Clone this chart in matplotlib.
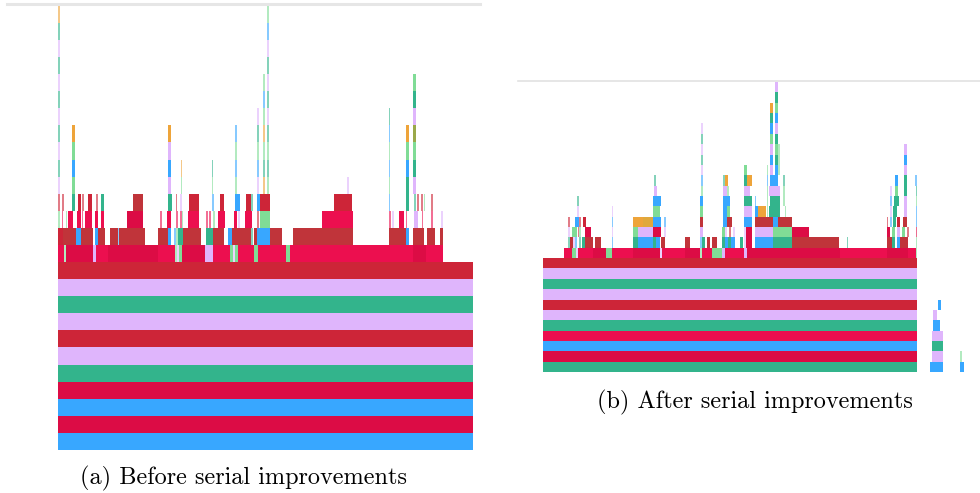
import matplotlib
matplotlib.use("Agg")
import matplotlib.pyplot as plt
from matplotlib.colors import to_rgba

# colour of each frame kind
palette = {
    "r": "#CD2538",  # red
    "d": "#C0343A",  # dark red
    "c": "#DC0C45",  # crimson
    "p": "#EC0F4F",  # pink
    "l": "#DFB5FC",  # lavender
    "g": "#33B48C",  # green
    "e": "#80DC96",  # light green
    "b": "#38A7FF",  # blue
    "o": "#EEA43A",  # orange
    "q": "#E0A83C",  # gold
    "v": "#9AA84A",  # olive
}

# ---- (a) before serial improvements ----
before_total = 415
# full-width frames, from the bottom of the stack upward
before_base = ["b", "c", "b", "c", "g", "l", "r", "l", "g", "l", "r"]
# (depth, start, end, kind)
before_frames = [
    (11, 0, 6, "p"), (11, 6, 8, "e"), (11, 8, 35, "c"), (11, 35, 38, "l"), (11, 38, 50, "p"),
    (11, 50, 100, "c"), (11, 100, 117, "p"), (11, 117, 119, "e"), (11, 119, 121, "l"),
    (11, 121, 124, "e"), (11, 124, 147, "c"), (11, 147, 155, "l"), (11, 155, 172, "p"),
    (11, 172, 175, "e"), (11, 175, 177, "l"), (11, 177, 180, "e"), (11, 180, 196, "p"),
    (11, 196, 200, "e"), (11, 200, 228, "p"), (11, 228, 232, "e"), (11, 232, 355, "p"),
    (11, 355, 368, "c"), (11, 368, 385, "p"),
    (12, 0, 5, "r"), (12, 5, 18, "d"), (12, 18, 23, "b"), (12, 23, 35, "d"), (12, 37, 40, "b"),
    (12, 40, 47, "d"), (12, 52, 60, "d"), (12, 60, 61, "b"), (12, 61, 87, "d"), (12, 100, 110, "d"),
    (12, 110, 113, "b"), (12, 116, 118, "b"), (12, 118, 120, "e"), (12, 120, 125, "g"),
    (12, 125, 143, "d"), (12, 148, 155, "g"), (12, 155, 166, "d"), (12, 170, 174, "b"),
    (12, 174, 193, "d"), (12, 193, 195, "g"), (12, 196, 199, "d"), (12, 199, 212, "b"),
    (12, 212, 224, "d"), (12, 235, 295, "d"), (12, 331, 348, "d"), (12, 348, 351, "b"),
    (12, 355, 366, "d"), (12, 369, 377, "d"), (12, 382, 385, "d"),
    (13, 0, 2, "e"), (13, 4, 5, "p"), (13, 8, 9, "e"), (13, 10, 15, "p"), (13, 19, 23, "p"),
    (13, 24, 25, "p"), (13, 27, 34, "p"), (13, 37, 40, "p"), (13, 43, 46, "p"), (13, 69, 85, "c"),
    (13, 102, 104, "p"), (13, 109, 113, "p"), (13, 118, 120, "p"), (13, 122, 124, "p"),
    (13, 124, 125, "e"), (13, 130, 141, "p"), (13, 148, 150, "p"), (13, 151, 153, "p"),
    (13, 155, 157, "e"), (13, 160, 167, "p"), (13, 176, 179, "p"), (13, 180, 182, "l"),
    (13, 187, 194, "p"), (13, 199, 201, "r"), (13, 202, 212, "e"), (13, 264, 295, "p"),
    (13, 331, 333, "p"), (13, 334, 336, "l"), (13, 341, 346, "p"), (13, 348, 349, "p"),
    (13, 356, 360, "l"), (13, 364, 365, "p"), (13, 373, 375, "p"), (13, 383, 385, "l"),
    (14, 0, 2, "r"), (14, 4, 6, "r"), (14, 14, 17, "g"), (14, 20, 23, "r"), (14, 24, 26, "r"),
    (14, 30, 34, "r"), (14, 38, 40, "r"), (14, 43, 46, "g"), (14, 75, 85, "d"), (14, 110, 114, "g"),
    (14, 118, 119, "r"), (14, 122, 124, "l"), (14, 131, 141, "r"), (14, 154, 156, "b"),
    (14, 162, 166, "r"), (14, 177, 182, "b"), (14, 188, 193, "r"), (14, 193, 195, "g"),
    (14, 199, 202, "b"), (14, 202, 212, "r"), (14, 276, 294, "r"), (14, 331, 332, "b"),
    (14, 348, 351, "g"), (14, 356, 358, "g"), (14, 359, 361, "r"), (14, 363, 365, "r"),
    (14, 366, 367, "e"), (14, 373, 375, "r"),
]
# (start, end, first depth, kinds going up)
before_spikes = [
    (0, 2, 15, "lglglglglgo"),
    (14, 17, 15, "ebeo"),
    (110, 113, 15, "lblo"),
    (123, 124, 15, "eo"),
    (154, 155, 15, "eg"),
    (177, 179, 15, "ebeb"),
    (199, 201, 15, "lbegl"),
    (205, 207, 15, "ogeoebe"),
    (209, 211, 15, "egeglglglbe"),
    (289, 291, 15, "l"),
    (331, 332, 15, "ebebg"),
    (348, 351, 15, "gbeo"),
    (355, 358, 15, "lgevlge"),
]

# ---- (b) after serial improvements ----
after_total = 374
after_base = ["g", "c", "b", "p", "g", "l", "r", "l", "g", "l", "r"]
after_frames = [
    (11, 21, 29, "p"), (11, 29, 33, "e"), (11, 33, 35, "l"), (11, 35, 50, "p"), (11, 50, 63, "c"),
    (11, 63, 69, "e"), (11, 69, 90, "p"), (11, 90, 117, "c"), (11, 117, 119, "l"), (11, 119, 142, "p"),
    (11, 142, 157, "c"), (11, 157, 159, "e"), (11, 159, 169, "p"), (11, 169, 179, "e"),
    (11, 179, 182, "l"), (11, 182, 201, "p"), (11, 201, 204, "l"), (11, 204, 297, "c"),
    (11, 297, 344, "p"), (11, 344, 365, "c"), (11, 365, 373, "p"), (11, 373, 374, "e"),
    (12, 25, 27, "g"), (12, 27, 30, "d"), (12, 30, 32, "l"), (12, 32, 34, "b"), (12, 36, 38, "g"),
    (12, 39, 42, "g"), (12, 42, 50, "d"), (12, 52, 58, "d"), (12, 69, 70, "b"), (12, 90, 95, "g"),
    (12, 95, 110, "b"), (12, 110, 113, "g"), (12, 113, 117, "b"), (12, 118, 122, "d"),
    (12, 142, 147, "d"), (12, 157, 159, "b"), (12, 159, 162, "g"), (12, 164, 167, "d"),
    (12, 169, 174, "d"), (12, 179, 182, "g"), (12, 182, 185, "b"), (12, 185, 188, "g"),
    (12, 188, 192, "b"), (12, 197, 200, "g"), (12, 201, 203, "l"), (12, 203, 209, "c"),
    (12, 212, 230, "b"), (12, 230, 249, "g"), (12, 249, 296, "d"), (12, 304, 305, "g"),
    (12, 344, 349, "d"), (12, 349, 352, "g"), (12, 354, 357, "b"), (12, 357, 365, "d"),
    (12, 373, 374, "e"),
    (13, 25, 27, "l"), (13, 29, 34, "e"), (13, 35, 36, "r"), (13, 36, 38, "e"), (13, 42, 48, "c"),
    (13, 69, 70, "l"), (13, 90, 95, "e"), (13, 95, 110, "l"), (13, 110, 118, "c"), (13, 121, 123, "l"),
    (13, 157, 160, "l"), (13, 179, 182, "e"), (13, 182, 184, "l"), (13, 186, 188, "r"),
    (13, 190, 192, "l"), (13, 201, 203, "l"), (13, 203, 209, "c"), (13, 212, 230, "l"),
    (13, 230, 249, "e"), (13, 249, 266, "c"), (13, 344, 347, "c"), (13, 349, 352, "e"),
    (13, 354, 357, "l"), (13, 359, 362, "e"), (13, 364, 366, "r"), (13, 373, 374, "c"),
    (14, 25, 27, "r"), (14, 32, 36, "b"), (14, 36, 38, "r"), (14, 40, 43, "r"), (14, 69, 70, "b"),
    (14, 90, 100, "o"), (14, 100, 110, "q"), (14, 110, 118, "b"), (14, 121, 123, "b"),
    (14, 157, 160, "d"), (14, 180, 184, "b"), (14, 184, 189, "d"), (14, 201, 209, "b"),
    (14, 212, 230, "d"), (14, 230, 235, "b"), (14, 235, 249, "d"), (14, 344, 345, "r"),
    (14, 347, 349, "b"), (14, 350, 353, "g"), (14, 354, 357, "r"), (14, 360, 364, "d"),
    (14, 373, 374, "b"),
    (15, 34, 36, "l"), (15, 69, 70, "l"), (15, 110, 117, "e"), (15, 157, 160, "e"),
    (15, 180, 184, "b"), (15, 184, 187, "e"), (15, 201, 209, "l"), (15, 212, 215, "b"),
    (15, 215, 223, "o"), (15, 224, 225, "e"), (15, 226, 237, "g"), (15, 242, 243, "e"),
    (15, 347, 349, "l"), (15, 350, 354, "g"), (15, 361, 364, "l"), (15, 373, 374, "b"),
    (16, 34, 36, "g"), (16, 110, 118, "b"), (16, 157, 160, "b"), (16, 180, 187, "b"),
    (16, 201, 209, "g"), (16, 212, 213, "b"), (16, 224, 225, "e"), (16, 227, 237, "g"),
    (16, 240, 242, "e"), (16, 347, 349, "b"), (16, 351, 356, "g"), (16, 361, 364, "l"),
    (16, 373, 374, "e"),
    (17, 111, 114, "l"), (17, 158, 160, "e"), (17, 180, 184, "l"), (17, 184, 186, "e"),
    (17, 201, 207, "l"), (17, 224, 225, "e"), (17, 226, 237, "l"), (17, 240, 242, "e"),
    (17, 347, 349, "l"), (17, 352, 355, "e"), (17, 361, 364, "g"), (17, 373, 374, "g"),
    (18, 111, 113, "g"), (18, 180, 182, "g"), (18, 182, 185, "o"), (18, 201, 204, "g"),
    (18, 204, 209, "o"), (18, 224, 225, "b"), (18, 227, 235, "b"), (18, 240, 242, "g"),
    (18, 352, 355, "b"), (18, 372, 374, "b"),
    # small separate stacks at the right
    (0, 387, 400, "b"), (1, 389, 400, "l"), (2, 389, 400, "g"), (3, 389, 400, "l"),
    (4, 390, 397, "b"), (5, 390, 394, "l"), (6, 395, 398, "b"),
    (0, 417, 421, "b"), (1, 417, 419, "e"),
]
after_spikes = [
    (158, 160, 18, "blglgl"),
    (201, 204, 19, "e"),
    (224, 225, 19, "e"),
    (227, 230, 19, "lblebgo"),
    (232, 235, 19, "bgeglbegl"),
    (235, 237, 19, "eee"),
    (361, 364, 18, "glbl"),
]


def draw_flame(ax, total, base, frames, spikes):
    depth, left, width, color = [], [], [], []
    for i, k in enumerate(base):
        depth.append(i); left.append(0); width.append(total); color.append(palette[k])
    for d, s, e, k in frames:
        depth.append(d); left.append(s); width.append(e - s); color.append(palette[k])
    for s, e, d0, kinds in spikes:
        for i, k in enumerate(kinds):
            depth.append(d0 + i); left.append(s); width.append(e - s); color.append(palette[k])
    # very narrow frames show up washed out in the profiler view
    color = [to_rgba(c, 0.6 if w <= 2 else 1.0) for c, w in zip(color, width)]
    ax.barh(depth, width, left=left, height=1, align="edge", color=color, linewidth=0)
    ax.set_axis_off()


fig = plt.figure(figsize=(9.8, 4.93), dpi=100)
W, H = 980, 493

# left panel: 26 frame rows of ~17 px
ax1 = fig.add_axes([58 / W, (493 - 450) / H, 415 / W, 446 / H])
draw_flame(ax1, before_total, before_base, before_frames, before_spikes)
ax1.set_xlim(0, 415)
ax1.set_ylim(0, 26.1)
ax1.axhline(26.1, xmin=-51 / 415, xmax=422 / 415, color="#E6E6E6", lw=2.2, clip_on=False)

# right panel: 28 frame rows of ~10.4 px
ax2 = fig.add_axes([543 / W, (493 - 372) / H, 437 / W, 291 / H])
draw_flame(ax2, after_total, after_base, after_frames, after_spikes)
ax2.set_xlim(0, 437)
ax2.set_ylim(0, 28.1)
ax2.axhline(28.1, xmin=-25 / 437, xmax=1, color="#E2E2E2", lw=1.2, clip_on=False)

fig.text(243 / W, 1 - 478 / H, "(a) Before serial improvements", family="cmr10",
         fontsize=17.5, ha="center", va="center")
fig.text(755 / W, 1 - 402 / H, "(b) After serial improvements", family="cmr10",
         fontsize=17.5, ha="center", va="center")

fig.savefig("out.png", dpi=100)
